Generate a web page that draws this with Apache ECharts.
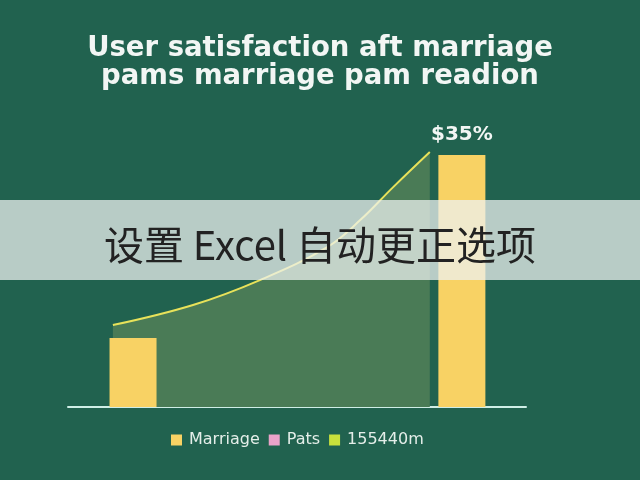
<!DOCTYPE html>
<html><head><meta charset="utf-8">
<script src="https://cdn.jsdelivr.net/npm/echarts@6/dist/echarts.min.js"></script>
<style>html,body{margin:0;padding:0;background:#21624f}#c{width:640px;height:480px}</style>
</head><body><div id="c"></div>
<script>
var titleText = 'User satisfaction aft marriage\npams marriage pam readion';
var overlayText = '设置 Excel 自动更正选项';
var legendNames = ['Marriage', 'Pats', '155440m'];
var barX = [14.2, 86.0];
var barValues = [23, 84];
var barLabels = ['', '$35%'];
var lineX = [9.8, 27.3, 41.9, 56.6, 63.8, 71.0, 79.0];
var lineY = [27.3, 34, 42.3, 53.3, 62.3, 73.3, 85];

var chart = echarts.init(document.getElementById('c'), null, {renderer: 'canvas'});
chart.setOption({
  backgroundColor: '#21624f',
  title: {
    text: titleText, left: 'center', top: 30,
    textStyle: {color: '#f2f6f4', fontFamily: 'DejaVu Sans', fontWeight: 'bold', fontSize: 27.5, lineHeight: 28}
  },
  legend: {
    top: 427, left: 166, itemWidth: 11, itemHeight: 11, itemGap: 9,
    icon: 'rect',
    textStyle: {color: '#e4eee9', fontSize: 16, fontFamily: 'DejaVu Sans', padding: [0, 0, 0, 2]},
    data: legendNames
  },
  grid: {left: 68, width: 458, top: 107, height: 300},
  xAxis: {type: 'value', min: 0, max: 100, show: true,
    axisLine: {show: true, lineStyle: {color: '#cfeee6', width: 2}},
    axisTick: {show: false}, axisLabel: {show: false}, splitLine: {show: false}},
  yAxis: {type: 'value', min: 0, max: 100, show: false, splitLine: {show: false}},
  series: [
    {name: legendNames[0], type: 'bar', barWidth: 47, itemStyle: {color: '#f8d264'},
      data: barX.map(function (x, i) { return {value: [x, barValues[i]], label: {show: !!barLabels[i], formatter: barLabels[i]}}; }),
      label: {position: 'top', distance: 10, color: '#f2f6f4', fontWeight: 'bold', fontSize: 20, fontFamily: 'DejaVu Sans'},
      z: 3},
    {name: legendNames[1], type: 'line', data: [], itemStyle: {color: '#e9a3c9'}},
    {name: legendNames[2], type: 'line', smooth: 0.4, symbol: 'none',
      itemStyle: {color: '#c8e03c'},
      lineStyle: {color: '#e8e25a', width: 2},
      areaStyle: {color: '#4a7b56', opacity: 1},
      data: lineX.map(function (x, i) { return [x, lineY[i]]; }), z: 2}
  ],
  graphic: [
    {type: 'rect', left: 0, top: 200, shape: {width: 640, height: 80},
      style: {fill: 'rgba(238,242,240,0.74)'}, z: 100},
    {type: 'text', left: 'center', top: 225,
      style: {text: overlayText, fill: '#222222', font: '40px "Noto Sans CJK SC"'}, z: 101}
  ]
});
</script></body></html>
